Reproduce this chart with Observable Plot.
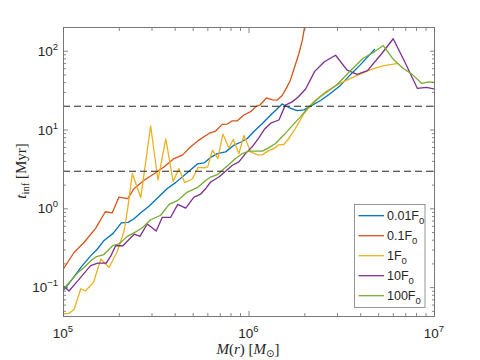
<!DOCTYPE html>
<html><head><meta charset="utf-8">
<script src="https://cdn.jsdelivr.net/npm/d3@7"></script>
<script src="https://cdn.jsdelivr.net/npm/@observablehq/plot@0.6"></script>
<style>
html,body{margin:0;padding:0;background:#fff;}
#chart{width:480px;height:360px;}
</style></head><body><div id="chart"></div>
<script>
// ---- data ----
const seriesNames = ["0.01F0", "0.1F0", "1F0", "10F0", "100F0"];
const seriesColors = ["#0072BD", "#D95319", "#EDB120", "#7E2F8E", "#77AC30"];

const m001 = [1.0e5,1.11e5,1.25e5,1.40e5,1.52e5,1.65e5,1.85e5,2.05e5,2.23e5,2.40e5,2.61e5,2.89e5,3.21e5,3.63e5,4.02e5,4.56e5,5.27e5,5.72e5,6.21e5,6.75e5,7.48e5,8.29e5,9.01e5,9.79e5,1.06e6,1.18e6,1.31e6,1.51e6,1.64e6,1.82e6,1.98e6,2.15e6,2.43e6,2.69e6,3.11e6,3.52e6,3.99e6,4.75e6];
const t001 = [0.0926,0.126,0.185,0.253,0.307,0.394,0.488,0.665,0.674,0.747,0.892,1.08,1.37,1.81,2.15,2.77,3.71,3.82,4.49,5.02,5.28,6.43,6.99,7.81,9.51,12.1,15.5,21.4,19.3,17.6,18.0,20.1,23.7,28.0,36.8,50.4,67.6,105];

const m01 = [1.0e5,1.14e5,1.29e5,1.49e5,1.68e5,1.83e5,1.99e5,2.22e5,2.40e5,2.72e5,3.08e5,3.48e5,3.94e5,4.37e5,4.85e5,5.37e5,6.08e5,6.61e5,7.18e5,7.64e5,8.13e5,8.65e5,9.39e5,1.02e6,1.09e6,1.15e6,1.24e6,1.34e6,1.42e6,1.51e6,1.59e6,1.67e6,1.76e6,1.86e6,1.94e6,2.04e6];
const t01 = [0.174,0.279,0.374,0.565,0.918,0.886,1.41,1.35,1.80,2.30,2.79,3.40,4.34,4.80,6.12,7.45,9.05,9.71,11.8,11.9,13.1,13.1,15.5,17.1,19.8,20.9,25.5,24.2,24.0,27.4,34.0,42.6,62.5,94.3,138,280];

const m1 = [1.0e5,1.07e5,1.14e5,1.24e5,1.31e5,1.45e5,1.59e5,1.76e5,1.95e5,2.12e5,2.22e5,2.35e5,2.61e5,2.95e5,3.23e5,3.56e5,3.90e5,4.19e5,4.50e5,4.95e5,5.31e5,5.72e5,5.99e5,6.35e5,6.80e5,7.23e5,7.79e5,8.23e5,8.82e5,9.39e5,1.02e6,1.11e6,1.18e6,1.28e6,1.36e6,1.45e6,1.54e6,1.64e6,1.78e6,1.98e6,2.24e6,2.64e6,3.11e6,3.83e6,4.52e6,5.33e6,6.29e6];
const t1 = [0.0464,0.0471,0.0527,0.0968,0.0905,0.116,0.231,0.180,0.287,0.518,1.02,2.79,1.39,11.3,2.32,7.74,2.23,3.23,2.15,2.39,3.35,3.30,3.40,5.55,4.34,8.89,5.94,7.59,5.02,8.58,5.28,4.84,4.84,5.52,5.77,6.49,6.55,7.81,10.5,16.2,23.0,31.5,39.4,49.4,58.4,65.7,69.7];

const m10 = [1.0e5,1.07e5,1.19e5,1.40e5,1.53e5,1.70e5,1.80e5,1.91e5,2.09e5,2.41e5,2.58e5,2.83e5,3.16e5,3.41e5,3.78e5,4.13e5,4.56e5,5.05e5,5.49e5,5.84e5,6.21e5,6.88e5,7.48e5,8.13e5,8.82e5,9.59e5,1.04e6,1.13e6,1.21e6,1.31e6,1.45e6,1.57e6,1.70e6,1.83e6,2.02e6,2.26e6,2.55e6,2.93e6,3.38e6,3.83e6,4.35e6,5.11e6,5.99e6,6.97e6,8.09e6,9.04e6,1.0e7];
const t10 = [0.105,0.0905,0.121,0.190,0.205,0.205,0.253,0.340,0.340,0.478,0.447,0.641,0.522,0.781,0.781,1.14,1.02,1.41,1.54,1.80,2.19,2.53,3.00,3.57,3.94,5.05,6.12,7.97,10.2,12.2,13.4,20.7,22.6,25.9,33.2,55.5,73.4,88.9,57.7,50.8,56.7,88.9,144,70.3,33.7,34.7,33.2];

const m100 = [1.0e5,1.09e5,1.19e5,1.29e5,1.43e5,1.51e5,1.65e5,1.84e5,1.99e5,2.21e5,2.45e5,2.66e5,2.95e5,3.34e5,3.71e5,4.11e5,4.65e5,5.27e5,5.84e5,6.21e5,6.75e5,7.18e5,7.79e5,8.47e5,9.20e5,1.0e6,1.18e6,1.27e6,1.39e6,1.54e6,1.73e6,1.90e6,2.07e6,2.43e6,2.99e6,3.52e6,4.12e6,4.71e6,5.29e6,6.03e6,6.76e6,7.58e6,8.55e6,9.31e6,1.0e7];
const t100 = [0.0960,0.121,0.153,0.180,0.227,0.248,0.263,0.340,0.358,0.447,0.510,0.574,0.726,0.829,1.14,1.27,1.63,1.86,2.29,2.53,2.71,3.08,3.64,4.34,5.02,5.41,5.39,5.89,6.74,8.63,11.7,14.8,19.0,26.6,37.9,56.4,81.4,97.1,118,77.9,60.7,50.8,39.0,40.8,40.2];

const dashLevels = [20, 3];

const xMajor = [1e5, 1e6, 1e7];
const xMajorExp = ["5", "6", "7"];
const xMinor = [2e5,3e5,4e5,5e5,6e5,7e5,8e5,9e5,2e6,3e6,4e6,5e6,6e6,7e6,8e6,9e6];
const yMajor = [0.1, 1, 10, 100];
const yMajorExp = ["\u22121", "0", "1", "2"];
const yMinor = [0.05,0.06,0.07,0.08,0.09,0.2,0.3,0.4,0.5,0.6,0.7,0.8,0.9,2,3,4,5,6,7,8,9,20,30,40,50,60,70,80,90];

// ---- build table ----
const seriesM = [m001, m01, m1, m10, m100];
const seriesT = [t001, t01, t1, t10, t100];
const rows = seriesNames.flatMap((name, i) => seriesM[i].map((m, j) => ({series: name, M: m, t: seriesT[i][j]})));

const axisColor = "#6a6a6a";
const tickOpts = (anchor, size) => ({anchor, tickSize: size, tickFormat: () => "", fill: "none", label: null, stroke: axisColor, strokeWidth: 0.8});

const plot = Plot.plot({
  width: 480, height: 360,
  marginLeft: 63, marginRight: 46, marginTop: 27, marginBottom: 44,
  style: {fontFamily: "'Liberation Sans', Arial, sans-serif", fontSize: "13px", background: "#fff", color: "#262626"},
  x: {type: "log", domain: [1e5, 1e7]},
  y: {type: "log", domain: [0.043, 200]},
  color: {domain: seriesNames, range: seriesColors},
  marks: [
    Plot.line(rows, {x: "M", y: "t", z: "series", stroke: "series", strokeWidth: 1.3, clip: true}),
    Plot.ruleY(dashLevels, {stroke: "#262626", strokeWidth: 1.1, strokeDasharray: "7,4"}),
    Plot.axisX(xMajor, tickOpts("bottom", -5)),
    Plot.axisX(xMinor, tickOpts("bottom", -3)),
    Plot.axisX(xMajor, tickOpts("top", -5)),
    Plot.axisX(xMinor, tickOpts("top", -3)),
    Plot.axisY(yMajor, tickOpts("left", -5)),
    Plot.axisY(yMinor, tickOpts("left", -3)),
    Plot.axisY(yMajor, tickOpts("right", -5)),
    Plot.axisY(yMinor, tickOpts("right", -3)),
    Plot.frame({stroke: axisColor, strokeWidth: 0.9})
  ]
});
document.getElementById("chart").appendChild(plot);

// ---- tick labels, axis titles and legend (rich text) ----
const svg = d3.select(plot);
const sx = plot.scale("x"), sy = plot.scale("y");
const lab = svg.append("g").attr("fill", "#262626").attr("font-family", "'Liberation Sans', Arial, sans-serif");

xMajor.forEach((v, i) => {
  const t = lab.append("text").attr("x", sx.apply(v)).attr("y", 338).attr("text-anchor", "middle").attr("font-size", 13.5);
  t.append("tspan").text("10");
  t.append("tspan").attr("dy", -6).attr("font-size", 9.5).text(xMajorExp[i]);
});
yMajor.forEach((v, i) => {
  const t = lab.append("text").attr("x", 58).attr("y", sy.apply(v) + 5).attr("text-anchor", "end").attr("font-size", 13.5);
  t.append("tspan").text("10");
  t.append("tspan").attr("dy", -6).attr("font-size", 9.5).text(yMajorExp[i]);
});

const serif = "'Liberation Serif', 'DejaVu Serif', serif";
const xl = svg.append("text").attr("x", 248).attr("y", 354).attr("text-anchor", "middle")
  .attr("font-family", serif).attr("font-size", 15).attr("fill", "#262626");
xl.append("tspan").attr("font-style", "italic").text("M");
xl.append("tspan").text("(");
xl.append("tspan").attr("font-style", "italic").text("r");
xl.append("tspan").text(") [");
xl.append("tspan").attr("font-style", "italic").text("M");
xl.append("tspan").attr("dy", 3).attr("font-size", 10).attr("font-family", "'DejaVu Sans', sans-serif").text("\u2299");
xl.append("tspan").attr("dy", -3).text("]");

const yl = svg.append("text").attr("transform", "translate(26,171) rotate(-90)").attr("text-anchor", "middle")
  .attr("font-family", serif).attr("font-size", 15).attr("fill", "#262626");
yl.append("tspan").attr("font-style", "italic").text("t");
yl.append("tspan").attr("dy", 3).attr("font-size", 10.5).text("inf");
yl.append("tspan").attr("dy", -3).text(" [Myr]");

const leg = svg.append("g").attr("font-family", "'Liberation Sans', Arial, sans-serif").attr("text-anchor", "start");
leg.append("rect").attr("x", 354.5).attr("y", 204.5).attr("width", 70.5).attr("height", 103)
  .attr("fill", "#fff").attr("stroke", "#8a8a8a").attr("stroke-width", 0.9);
seriesNames.forEach((name, i) => {
  const y = 215.7 + 20 * i;
  leg.append("line").attr("x1", 358.5).attr("x2", 384).attr("y1", y).attr("y2", y)
    .attr("stroke", seriesColors[i]).attr("stroke-width", 1.3);
  const t = leg.append("text").attr("x", 387).attr("y", y + 4.5).attr("font-size", 12.5).attr("fill", "#262626").attr("text-anchor", "start");
  t.append("tspan").text(name.slice(0, -1));
  t.append("tspan").attr("dy", 4).attr("font-size", 9.5).text(name.slice(-1));
});
</script>
</body></html>
